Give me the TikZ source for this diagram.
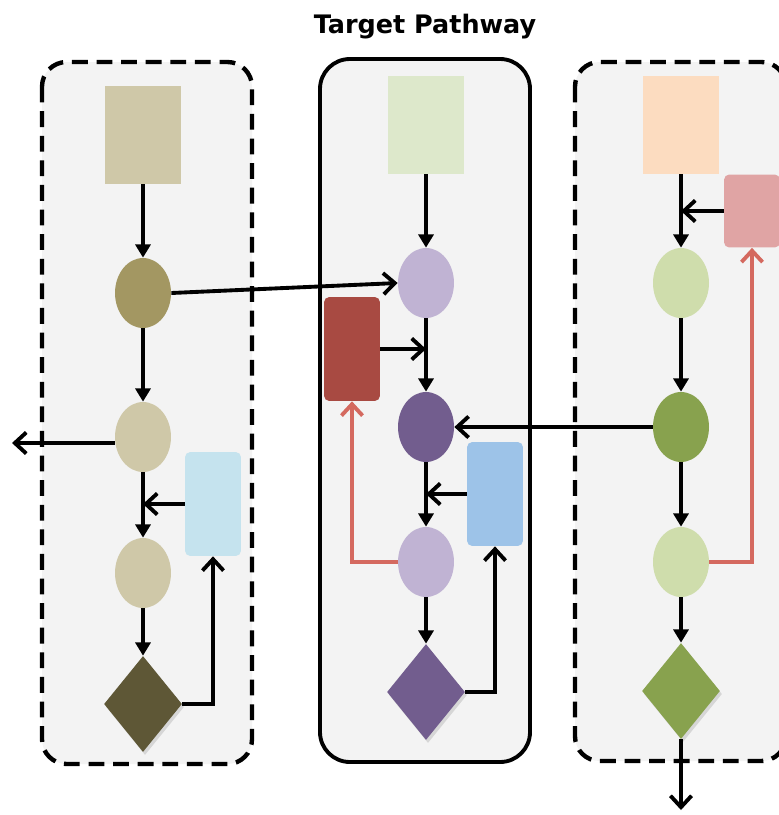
\documentclass[tikz,border=0pt]{standalone}
\usepackage{fontspec}
\newfontfamily\titlefont{DejaVu Sans}
\usetikzlibrary{arrows.meta,shapes.geometric,shadows}

% colours
\definecolor{panelgray}{HTML}{F3F3F3}
\definecolor{tanlight}{HTML}{CFC8A8}
\definecolor{olive}{HTML}{A39762}
\definecolor{olivedark}{HTML}{5E5736}
\definecolor{skyblue}{HTML}{C5E3EE}
\definecolor{greenpale}{HTML}{DDE8CB}
\definecolor{lilac}{HTML}{C0B3D3}
\definecolor{purpledark}{HTML}{725D8E}
\definecolor{brickred}{HTML}{A84A42}
\definecolor{bluemid}{HTML}{9DC3E8}
\definecolor{peach}{HTML}{FCDCC0}
\definecolor{pinkred}{HTML}{E0A4A4}
\definecolor{greenlight}{HTML}{CFDDAC}
\definecolor{greenmid}{HTML}{88A24E}
\definecolor{redline}{HTML}{D4695F}

\tikzset{
  panel/.style={fill=panelgray, rounded corners=14pt, line width=2.5pt},
  srcbox/.style={rectangle, minimum width=1.54cm, minimum height=1.96cm, inner sep=0pt},
  regbox/.style={rectangle, rounded corners=3pt, minimum width=1.12cm, minimum height=2.08cm, inner sep=0pt},
  mol/.style={ellipse, minimum width=1.12cm, minimum height=1.4cm, inner sep=0pt},
  outdia/.style={diamond, minimum width=1.56cm, minimum height=1.92cm, inner sep=0pt,
    drop shadow={shadow xshift=0.4mm, shadow yshift=-0.6mm, opacity=0.25}},
  flow/.style={line width=2.2pt, -{Triangle[length=7.5pt,width=8.5pt]}},
  act/.style={line width=2.2pt, -{Straight Barb[length=6.5pt,width=12pt,line width=2.2pt]}},
  fback/.style={act, draw=redline},
}

\begin{document}
\begin{tikzpicture}[x=0.02cm, y=-0.02cm]
  \useasboundingbox (0,0) rectangle (778,815);

  % Panels
  \draw[panel, dash pattern=on 9pt off 5pt] (42,62) rectangle (252,764);
  \draw[panel, rounded corners=17pt, line width=2.2pt] (320,59) rectangle (530,762);
  \draw[panel, dash pattern=on 9pt off 5pt] (575,62) rectangle (786,761);

  \node[font=\titlefont\bfseries\fontsize{14.5}{17}\selectfont] (title) at (425,27) {Target Pathway};

  % Left pathway
  \node[srcbox, fill=tanlight] (lsrc) at (143,135) {};
  \node[mol, fill=olive] (l1) at (143,293) {};
  \node[mol, fill=tanlight] (l2) at (143,437) {};
  \node[mol, fill=tanlight] (l3) at (143,573) {};
  \node[outdia, fill=olivedark] (ldia) at (143,704) {};
  \node[regbox, fill=skyblue] (lreg) at (213,504) {};
  \coordinate (lexit) at (12,443);

  \draw[flow] (lsrc) -- (l1);
  \draw[flow] (l1) -- (l2);
  \draw[flow] (l2) -- (l3);
  \draw[flow] (l3) -- (ldia);
  \draw[act] (lexit -| l2.west) -- (lexit);
  \draw[act] (lreg.west) -- (lreg.west -| l2.south);
  \draw[act] (ldia.east) -| (lreg.south);

  % Middle pathway
  \node[srcbox, fill=greenpale] (msrc) at (426,125) {};
  \node[mol, fill=lilac] (m1) at (426,283) {};
  \node[mol, fill=purpledark] (m2) at (426,427) {};
  \node[mol, fill=lilac] (m3) at (426,562) {};
  \node[outdia, fill=purpledark] (mdia) at (426,692) {};
  \node[regbox, fill=brickred] (mred) at (352,349) {};
  \node[regbox, fill=bluemid] (mreg) at (495,494) {};

  \draw[flow] (msrc) -- (m1);
  \draw[flow] (m1) -- (m2);
  \draw[flow] (m2) -- (m3);
  \draw[flow] (m3) -- (mdia);
  \draw[act] (l1.east) -- (m1.west);
  \draw[act] (mred.east) -- (mred.east -| m1.south);
  \draw[act] (mreg.west) -- (mreg.west -| m2.south);
  \draw[act] (mdia.east) -| (mreg.south);
  \draw[fback] (m3.west) -| (mred.south);

  % Right pathway
  \node[srcbox, fill=peach] (rsrc) at (681,125) {};
  \node[regbox, fill=pinkred, minimum height=1.46cm] (rreg) at (752,211) {};
  \node[mol, fill=greenlight] (r1) at (681,283) {};
  \node[mol, fill=greenmid] (r2) at (681,427) {};
  \node[mol, fill=greenlight] (r3) at (681,562) {};
  \node[outdia, fill=greenmid] (rdia) at (681,691) {};
  \coordinate (rexit) at (681,810);

  \draw[flow] (rsrc) -- (r1);
  \draw[flow] (r1) -- (r2);
  \draw[flow] (r2) -- (r3);
  \draw[flow] (r3) -- (rdia);
  \draw[act] (rreg.west) -- (rreg.west -| r1.north);
  \draw[act] (r2.west) -- (m2.east);
  \draw[act] (rdia.south) -- (rexit);
  \draw[fback] (r3.east) -| (rreg.south);
\end{tikzpicture}
\end{document}
